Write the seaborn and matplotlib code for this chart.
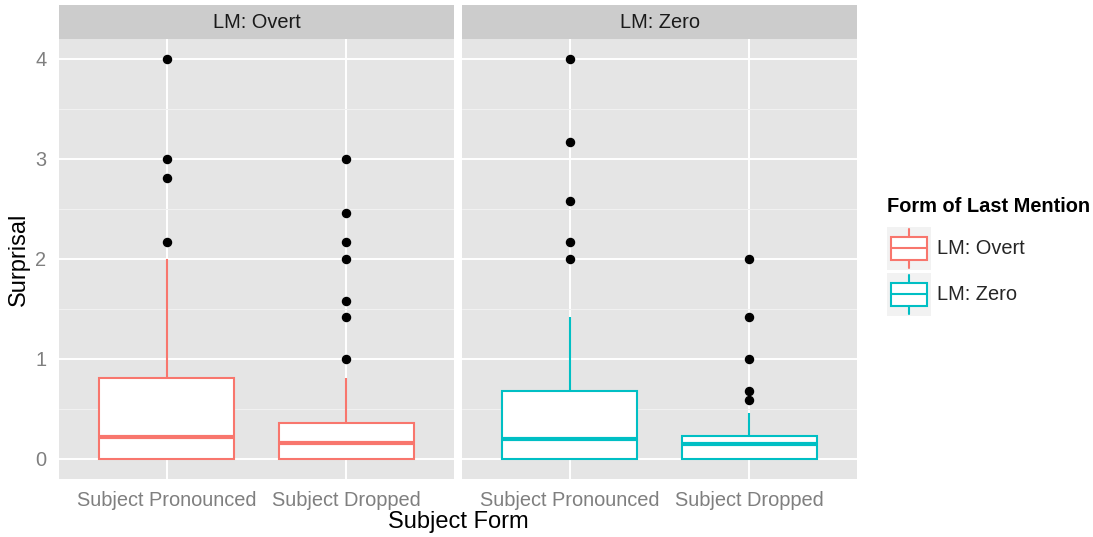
import matplotlib
matplotlib.use("Agg")
import matplotlib.pyplot as plt
import numpy as np
import pandas as pd
import seaborn as sns
from matplotlib.patches import Rectangle, Patch
from matplotlib.lines import Line2D
from matplotlib.legend_handler import HandlerBase

sns.set_style("white")
plt.rcParams["font.family"] = ["Liberation Sans", "DejaVu Sans"]

# ---------------- data ----------------
forms = ["Subject Pronounced", "Subject Dropped"]
last_mentions = ["LM: Overt", "LM: Zero"]
palette = ["#F8766D", "#00BFC4"]

overt_pronounced = [0, 0, 0, 0, 0, 0, 0, 0, 0, 0, 0,
                    0.04, 0.07, 0.1, 0.12, 0.15, 0.15, 0.17, 0.2, 0.22,
                    0.22,
                    0.26, 0.32, 0.38, 0.42, 0.42, 0.5, 0.58, 0.68, 0.74,
                    0.81,
                    1.0, 1.0, 1.17, 1.42, 1.58,
                    2.0,
                    2.17, 2.81, 3.0, 4.0]
overt_dropped = [0, 0, 0, 0, 0, 0, 0, 0, 0, 0, 0,
                 0.02, 0.04, 0.06, 0.07, 0.1, 0.12, 0.14, 0.15, 0.15,
                 0.16,
                 0.17, 0.2, 0.22, 0.24, 0.26, 0.28, 0.3, 0.32, 0.34,
                 0.36,
                 0.42, 0.58, 0.81,
                 1.0, 1.42, 1.58, 2.0, 2.17, 2.46, 3.0]
zero_pronounced = [0, 0, 0, 0, 0, 0, 0, 0, 0, 0, 0,
                   0.02, 0.04, 0.07, 0.1, 0.12, 0.14, 0.15, 0.17, 0.19,
                   0.2,
                   0.22, 0.26, 0.3, 0.32, 0.38, 0.42, 0.5, 0.58, 0.64,
                   0.68,
                   0.81, 1.0, 1.0, 1.17,
                   1.42,
                   2.0, 2.17, 2.58, 3.17, 4.0]
zero_dropped = [0, 0, 0, 0, 0, 0, 0, 0, 0, 0, 0,
                0.02, 0.04, 0.06, 0.07, 0.1, 0.12, 0.14, 0.15, 0.15,
                0.15,
                0.16, 0.17, 0.17, 0.19, 0.2, 0.2, 0.22, 0.22, 0.23,
                0.23,
                0.26, 0.32, 0.38, 0.42,
                0.46,
                0.59, 0.68, 1.0, 1.42, 2.0]

y_ticks = [0, 1, 2, 3, 4]
legend_title = "Form of Last Mention"

series = {
    "LM: Overt": (overt_pronounced, overt_dropped),
    "LM: Zero": (zero_pronounced, zero_dropped),
}
rows = []
for lm in last_mentions:
    for form, vals in zip(forms, series[lm]):
        for v in vals:
            rows.append((lm, form, v))
df = pd.DataFrame(rows, columns=["lm", "form", "surprisal"])

# ---------------- figure ----------------
W, H = 1093, 537
fig = plt.figure(figsize=(W / 100, H / 100), dpi=100)


def fax(l, t, r, b):
    return fig.add_axes([l / W, 1 - b / H, (r - l) / W, (b - t) / H])


GREY_TXT = "#7F7F7F"
SMALL = 14.4
BIG = 17
panels = [(59, 454), (462, 857)]
for i, (lm, (l, r)) in enumerate(zip(last_mentions, panels)):
    ax = fax(l, 39, r, 479)
    sub = df[df["lm"] == lm]
    sns.boxplot(data=sub, x="form", y="surprisal", order=forms,
                color=palette[i], linecolor=palette[i], ax=ax,
                width=0.75, linewidth=1.5, showcaps=False, fliersize=5.8,
                boxprops=dict(facecolor="white"),
                medianprops=dict(linewidth=3.0),
                flierprops=dict(marker="o", markerfacecolor="black",
                                markeredgecolor="black", markersize=5.8))
    ax.set_facecolor("#E5E5E5")
    ax.set_xlim(-0.6, 1.6)
    ax.set_ylim(-0.2, 4.2)
    ax.set_yticks(y_ticks)
    ax.set_yticks([0.5, 1.5, 2.5, 3.5], minor=True)
    ax.grid(which="major", axis="both", color="white", linewidth=1.4)
    ax.grid(which="minor", axis="y", color="#F2F2F2", linewidth=0.7)
    ax.set_axisbelow(True)
    for s in ax.spines.values():
        s.set_visible(False)
    ax.tick_params(which="major", length=5, width=1, color=GREY_TXT,
                   labelcolor=GREY_TXT, labelsize=SMALL, pad=4)
    ax.tick_params(which="minor", length=0)
    ax.set_xlabel("")
    ax.set_ylabel("")
    if i == 1:
        ax.tick_params(axis="y", left=False, labelleft=False)

    sax = fax(l, 5, r, 39)
    sax.set_facecolor("#CCCCCC")
    sax.set_xticks([])
    sax.set_yticks([])
    for s in sax.spines.values():
        s.set_visible(False)
    sax.text(0.5, 0.5, lm, ha="center", va="center", fontsize=SMALL,
             color="#1A1A1A", transform=sax.transAxes)

fig.text(458 / W, 1 - 522 / H, "Subject Form", ha="center", va="center",
         fontsize=BIG, color="black")
fig.text(19 / W, 1 - 259 / H, "Surprisal", ha="center", va="center",
         rotation=90, fontsize=BIG, color="black")


class BoxKeyHandler(HandlerBase):
    def create_artists(self, legend, orig_handle, xdescent, ydescent,
                       width, height, fontsize, trans):
        c = orig_handle.get_edgecolor()
        x0, y0 = -xdescent, -ydescent
        arts = [Rectangle((x0, y0), width, height, facecolor="#F2F2F2",
                          edgecolor="none", transform=trans)]
        bx0, bx1 = x0 + 0.09 * width, x0 + 0.92 * width
        by0, by1 = y0 + 0.23 * height, y0 + 0.77 * height
        xm = x0 + 0.505 * width
        arts.append(Rectangle((bx0, by0), bx1 - bx0, by1 - by0,
                              facecolor="white", edgecolor=c, linewidth=1.5,
                              transform=trans))
        arts.append(Line2D([bx0, bx1], [y0 + 0.5 * height] * 2, color=c,
                           lw=1.5, transform=trans))
        arts.append(Line2D([xm, xm], [y0 + 0.05 * height, by0], color=c,
                           lw=1.5, transform=trans))
        arts.append(Line2D([xm, xm], [by1, y0 + 0.95 * height], color=c,
                           lw=1.5, transform=trans))
        return arts


fig.text(887 / W, 1 - 207 / H, legend_title, ha="left", va="center",
         fontsize=SMALL, fontweight="bold", color="black")
handles = [Patch(facecolor="white", edgecolor=c) for c in palette]
leg = fig.legend(handles=handles, labels=last_mentions,
                 handler_map={Patch: BoxKeyHandler()},
                 loc="upper left",
                 bbox_to_anchor=(887 / W, 1 - 227 / H), frameon=False,
                 fontsize=SMALL, handlelength=2.2,
                 handleheight=2.93, handletextpad=0.3, labelspacing=0.15,
                 borderpad=0, borderaxespad=0)

fig.savefig("out.png", dpi=100)
